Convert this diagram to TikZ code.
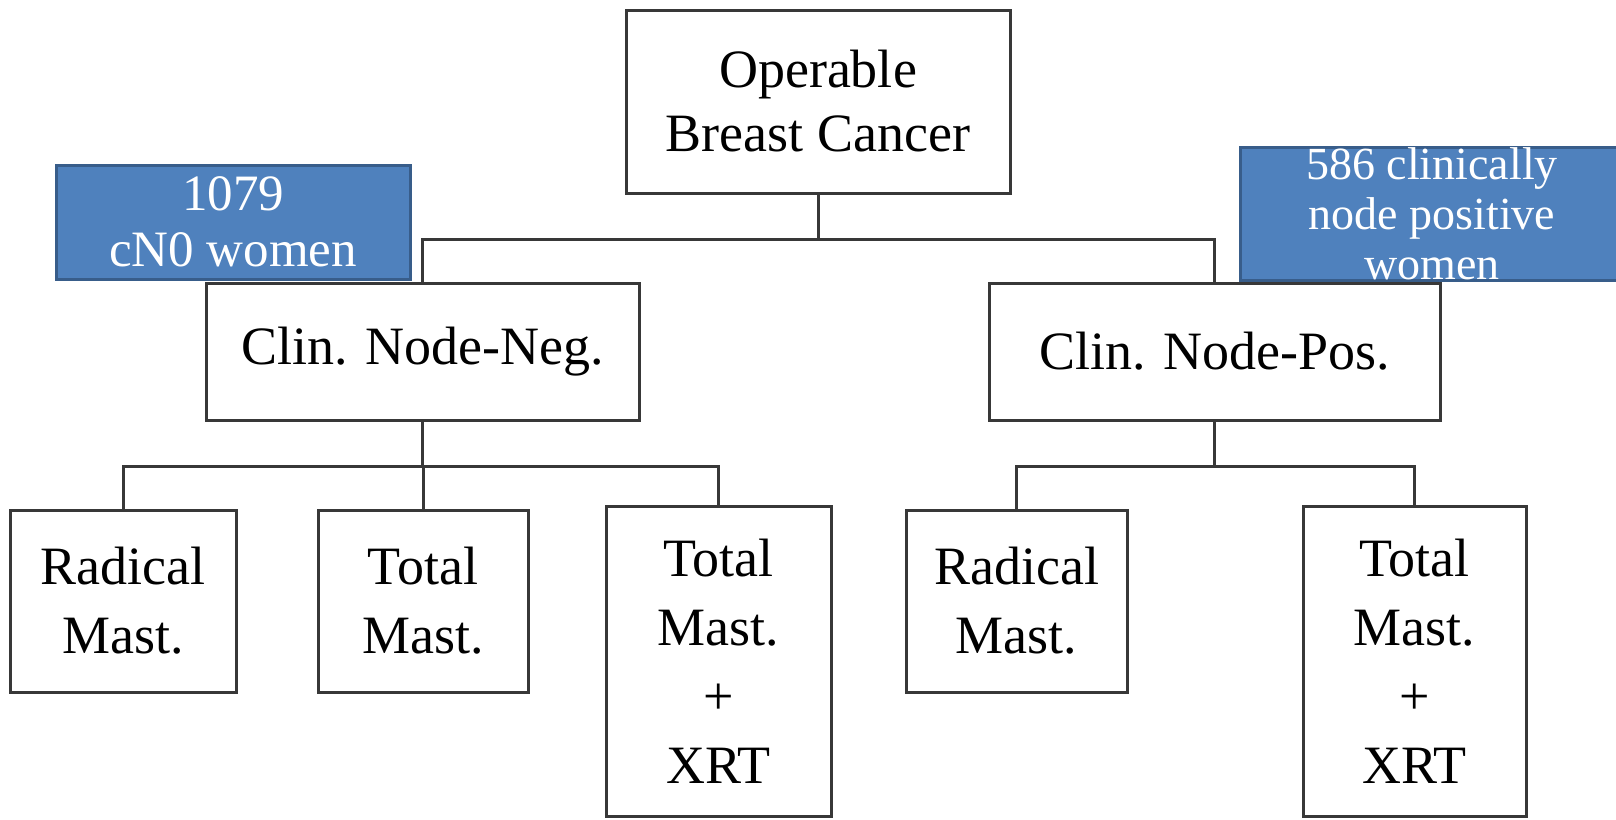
\documentclass[tikz,border=0pt]{standalone}
\usepackage{fontspec}
\setmainfont{Liberation Serif}
\definecolor{boxline}{HTML}{383838}
\definecolor{bluefill}{HTML}{4F81BD}
\definecolor{blueline}{HTML}{385D8A}
\tikzset{
  plain/.style={draw=boxline, line width=3pt, fill=white, align=center, inner sep=0pt,
    font=\fontsize{54pt}{64pt}\selectfont, text=black},
  tall/.style={plain, font=\fontsize{54pt}{69pt}\selectfont},
  bluebox/.style={draw=blueline, line width=3pt, fill=bluefill, align=center, inner sep=0pt,
    text=white},
  conn/.style={draw=boxline, line width=3pt}
}
\begin{document}
\begin{tikzpicture}[x=1pt, y=-1pt]
\useasboundingbox (0,0) rectangle (1616,819);
\clip (0,0) rectangle (1616,819);
\fill[white] (0,0) rectangle (1616,819);
% main boxes
\node[plain, minimum width=384pt, minimum height=183pt] (top) at (818,101.5) {Operable\\Breast Cancer};
\node[plain, minimum width=433pt, minimum height=137pt] (neg) at (422.5,351.5) {Clin. Node-Neg.};
\node[plain, minimum width=451pt, minimum height=137pt] (pos) at (1214.5,351.5) {Clin. Node-Pos.};
\node[tall, minimum width=226pt, minimum height=182pt] (r1) at (123,601) {Radical\\Mast.};
\node[tall, minimum width=210pt, minimum height=182pt] (t1) at (423,601) {Total\\Mast.};
\node[tall, minimum width=225pt, minimum height=310pt] (x1) at (718.5,661) {Total\\Mast.\\+\\XRT};
\node[tall, minimum width=221pt, minimum height=182pt] (r2) at (1016.5,601) {Radical\\Mast.};
\node[tall, minimum width=223pt, minimum height=310pt] (x2) at (1414.5,661) {Total\\Mast.\\+\\XRT};
% junctions
\coordinate (j1) at (818,239);
\coordinate (j2) at (422.5,466);
\coordinate (j3) at (1214.5,466);
% connectors
\draw[conn] (top.south) -- (j1);
\draw[conn] (neg.north) |- (j1) -| (pos.north);
\draw[conn] (neg.south) -- (j2);
\draw[conn] (r1.north) |- (j2) -| (x1.north);
\draw[conn] (t1.north) -- (t1.north |- j2);
\draw[conn] (pos.south) -- (j3);
\draw[conn] (r2.north) |- (j3) -| (x2.north);
% blue annotation boxes
\node[bluebox, minimum width=354pt, minimum height=114pt,
  font=\fontsize{51pt}{56pt}\selectfont] (b1) at (233,222) {1079\\cN0 women};
\node[bluebox, minimum width=384pt, minimum height=130pt,
  font=\fontsize{46pt}{50pt}\selectfont] (b2) at (1432,214) {586 clinically\\node positive\\women};
\end{tikzpicture}
\end{document}
